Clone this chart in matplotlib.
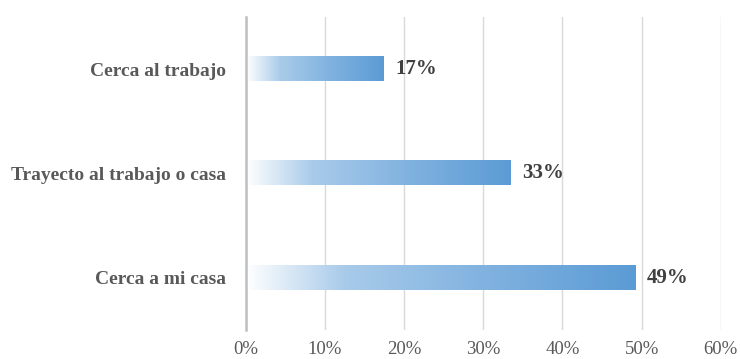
import numpy as np
import matplotlib
matplotlib.use("Agg")
import matplotlib.pyplot as plt
from matplotlib.colors import LinearSegmentedColormap
from matplotlib.ticker import FuncFormatter

categories = ["Cerca a mi casa", "Trayecto al trabajo o casa", "Cerca al trabajo"]
shares = [0.492, 0.334, 0.174]
ticks = [0.0, 0.1, 0.2, 0.3, 0.4, 0.5, 0.6]

plt.rcParams["font.family"] = ["Liberation Serif", "DejaVu Serif"]

fade = LinearSegmentedColormap.from_list(
    "fade", [(0.0, "#ffffff"), (0.25, "#a9cbea"), (0.6, "#82b3e0"), (1.0, "#5b9bd5")])

fig = plt.figure(figsize=(7.4, 3.59), dpi=100)
ax = fig.add_axes([0.332, 0.081, 0.642, 0.872])

bar_h = 0.23
grad = np.linspace(0, 1, 256).reshape(1, -1)
for i, v in enumerate(shares):
    ax.imshow(grad, cmap=fade, aspect="auto", interpolation="bilinear",
              extent=[0, v, i - bar_h / 2, i + bar_h / 2], zorder=2)
    ax.text(v + 0.015, i, f"{v * 100:.0f}%", va="center", ha="left",
            fontsize=15, fontweight="bold", color="#404040")

ax.set_xlim(0, 0.6)
ax.set_ylim(-0.5, 2.5)
ax.set_xticks(ticks)
ax.xaxis.set_major_formatter(FuncFormatter(lambda x, _: f"{x * 100:.0f}%"))
ax.set_yticks(range(len(categories)))
ax.set_yticklabels(categories, fontweight="bold")
ax.tick_params(axis="x", length=0, pad=8, labelsize=13.5, labelcolor="#595959")
ax.tick_params(axis="y", length=0, pad=14, labelsize=14, labelcolor="#595959")

ax.grid(axis="x", color="#d9d9d9", lw=1.0, zorder=0)
ax.set_axisbelow(True)
for side in ["top", "right", "bottom"]:
    ax.spines[side].set_visible(False)
ax.spines["left"].set_color("#bfbfbf")
ax.spines["left"].set_linewidth(1.8)

fig.savefig("out.png", dpi=100)
